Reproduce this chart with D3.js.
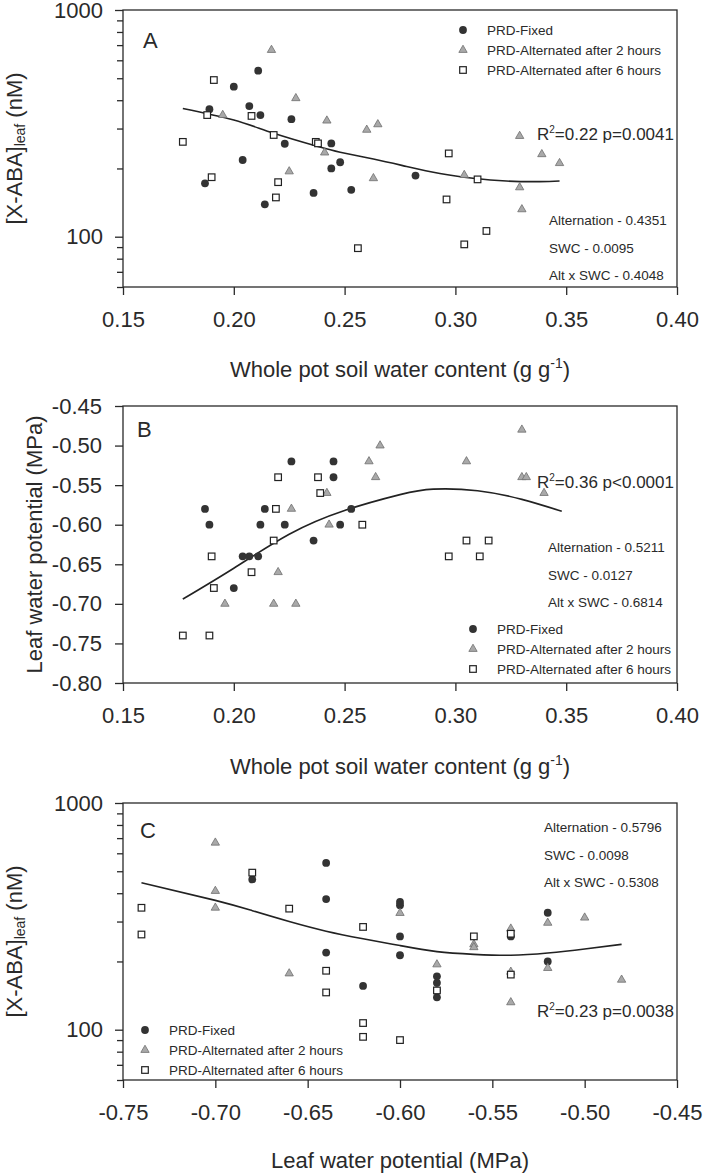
<!DOCTYPE html>
<html>
<head>
<meta charset="utf-8">
<script src="https://cdn.jsdelivr.net/npm/d3@7"></script>
<style>
  body { margin: 0; background: #fff; }
  svg { font-family: "Liberation Sans", Arial, sans-serif; }
</style>
</head>
<body>
<script>
const W = 704, H = 1176;
const left = 123, plotW = 554, plotH = 277;

// panel A : [X-ABA]leaf (nM) vs whole pot soil water content
const fixedA = [[0.187,172],[0.189,365],[0.200,459],[0.211,540],[0.207,377],[0.212,344],[0.226,330],[0.223,257],
  [0.204,218],[0.214,139],[0.236,156],[0.244,258],[0.244,200],[0.248,213],[0.253,161],[0.282,186]];
const alt2A = [[0.195,344],[0.217,666],[0.228,408],[0.242,325],[0.225,194],[0.241,235],[0.260,296],[0.265,313],
  [0.263,181],[0.304,187],[0.329,278],[0.339,231],[0.347,211],[0.329,165],[0.330,132]];
const alt6A = [[0.177,262],[0.191,491],[0.188,344],[0.190,183],[0.208,341],[0.218,281],[0.220,174],[0.219,149],
  [0.237,262],[0.238,258],[0.256,89],[0.297,233],[0.296,146],[0.310,179],[0.314,106],[0.304,92.5]];
const fitA = [[0.177,368],[0.200,327],[0.218,286],[0.238,250],[0.248,236],[0.263,220],[0.278,204],[0.293,190],
  [0.308,181],[0.323,176],[0.338,175],[0.347,176]];
const statsA = ["Alternation - 0.4351", "SWC - 0.0095", "Alt x SWC - 0.4048"];

// panel B : leaf water potential (MPa) vs whole pot soil water content
const fixedB = [[0.187,-0.58],[0.189,-0.60],[0.200,-0.68],[0.204,-0.64],[0.207,-0.64],[0.211,-0.64],[0.212,-0.60],
  [0.214,-0.58],[0.223,-0.60],[0.226,-0.52],[0.236,-0.62],[0.245,-0.52],[0.245,-0.54],[0.248,-0.60],[0.253,-0.58]];
const alt2B = [[0.196,-0.70],[0.218,-0.70],[0.228,-0.70],[0.220,-0.66],[0.226,-0.58],[0.242,-0.56],[0.243,-0.60],
  [0.261,-0.52],[0.266,-0.50],[0.264,-0.54],[0.305,-0.52],[0.330,-0.48],[0.330,-0.54],[0.332,-0.54],[0.340,-0.56]];
const alt6B = [[0.177,-0.74],[0.189,-0.74],[0.190,-0.64],[0.191,-0.68],[0.208,-0.66],[0.218,-0.62],[0.219,-0.58],
  [0.220,-0.54],[0.238,-0.54],[0.239,-0.56],[0.258,-0.60],[0.297,-0.64],[0.305,-0.62],[0.311,-0.64],[0.315,-0.62]];
const fitB = [[0.177,-0.694],[0.200,-0.655],[0.225,-0.612],[0.250,-0.582],[0.275,-0.562],[0.290,-0.555],
  [0.310,-0.557],[0.330,-0.568],[0.348,-0.583]];
const statsB = ["Alternation - 0.5211", "SWC - 0.0127", "Alt x SWC - 0.6814"];

// panel C : [X-ABA]leaf (nM) vs leaf water potential
const fixedC = [[-0.68,460],[-0.64,544],[-0.64,377],[-0.64,219],[-0.62,156],[-0.60,366],[-0.60,354],[-0.60,258],
  [-0.60,213],[-0.58,172],[-0.58,161],[-0.58,149],[-0.58,139],[-0.54,258],[-0.52,328],[-0.52,200]];
const alt2C = [[-0.70,668],[-0.70,409],[-0.70,345],[-0.66,177],[-0.60,327],[-0.58,194],[-0.56,238],[-0.56,231],
  [-0.54,279],[-0.54,180],[-0.54,132],[-0.52,296],[-0.52,187],[-0.50,312],[-0.48,166]];
const alt6C = [[-0.74,345],[-0.74,263],[-0.68,493],[-0.66,342],[-0.64,182],[-0.64,146],[-0.62,284],[-0.62,107],
  [-0.62,93],[-0.60,90],[-0.58,149],[-0.56,258],[-0.54,265],[-0.54,175]];
const fitC = [[-0.74,445],[-0.70,372],[-0.68,335],[-0.66,300],[-0.64,272],[-0.62,252],[-0.60,235],[-0.58,221],
  [-0.56,215],[-0.54,213],[-0.52,218],[-0.50,227],[-0.48,238]];
const statsC = ["Alternation - 0.5796", "SWC - 0.0098", "Alt x SWC - 0.5308"];

const legendLabels = ["PRD-Fixed", "PRD-Alternated after 2 hours", "PRD-Alternated after 6 hours"];
const swcTicks = [0.15, 0.20, 0.25, 0.30, 0.35, 0.40];
const psiTicks = [-0.80, -0.75, -0.70, -0.65, -0.60, -0.55, -0.50, -0.45];
const abaMajor = [100, 1000];
const abaMinor = [60, 70, 80, 90, 200, 300, 400, 500, 600, 700, 800, 900];

const ink = "#2a2a2a";

const svg = d3.select("body").append("svg")
  .attr("width", W)
  .attr("height", H);

function drawMarker(sel, kind) {
  if (kind == 0) {
    sel.append("circle").attr("r", 3.9).attr("fill", "#333");
  } else if (kind == 1) {
    sel.append("path")
      .attr("d", d3.symbol(d3.symbolTriangle, 30)())
      .attr("fill", "#a9a9a9").attr("stroke", "#6e6e6e").attr("stroke-width", 0.8);
  } else {
    sel.append("rect").attr("x", -3.3).attr("y", -3.3).attr("width", 6.6).attr("height", 6.6)
      .attr("fill", "#fff").attr("stroke", "#222").attr("stroke-width", 1.2);
  }
}

function panel(o) {
  const g = svg.append("g").attr("transform", "translate(" + left + "," + o.top + ")");

  const x = d3.scaleLinear().domain(o.xDomain).range([0, plotW]);
  const y = o.log
    ? d3.scaleLog().domain([60, 1000]).range([plotH, 0])
    : d3.scaleLinear().domain([-0.80, -0.45]).range([plotH, 0]);

  // axes
  const xa = g.append("g").attr("transform", "translate(0," + plotH + ")")
    .call(d3.axisBottom(x).tickValues(o.xTicks).tickSize(8).tickSizeOuter(0).tickPadding(16)
      .tickFormat(d => d.toFixed(2)));
  if (o.log) {
    g.append("g").call(d3.axisLeft(y).tickValues(abaMinor).tickSize(6).tickSizeOuter(0).tickFormat(""));
    g.append("g").call(d3.axisLeft(y).tickValues(abaMajor).tickSize(8).tickSizeOuter(0).tickPadding(12)
      .tickFormat(d => String(d)));
  } else {
    g.append("g").call(d3.axisLeft(y).tickValues(psiTicks).tickSize(8).tickSizeOuter(0).tickPadding(13)
      .tickFormat(d => d.toFixed(2)));
  }
  g.selectAll(".domain").remove();
  g.selectAll(".tick line").attr("stroke", ink).attr("stroke-width", 1.3);
  g.selectAll(".tick text").attr("fill", ink).style("font-size", "22px")
    .style("font-family", '"Liberation Sans", Arial, sans-serif');

  // frame
  g.append("rect").attr("width", plotW).attr("height", plotH)
    .attr("fill", "none").attr("stroke", ink).attr("stroke-width", 1.3);

  // fit line
  g.append("path")
    .datum(o.fit)
    .attr("d", d3.line().x(d => x(d[0])).y(d => y(d[1])).curve(d3.curveNatural))
    .attr("fill", "none").attr("stroke", "#222").attr("stroke-width", 1.6);

  // points
  o.series.forEach(function(s, k) {
    const pts = g.append("g").selectAll("g").data(s).enter().append("g")
      .attr("transform", d => "translate(" + x(d[0]) + "," + y(d[1]) + ")");
    drawMarker(pts, k);
  });

  // panel letter
  g.append("text").attr("x", o.letterX).attr("y", o.letterY)
    .attr("fill", ink).style("font-size", "22px").text(o.letter);

  // legend
  legendLabels.forEach(function(t, i) {
    const row = g.append("g").attr("transform", "translate(" + o.legX + "," + (o.legY + i * 20) + ")");
    drawMarker(row, i);
    row.append("text").attr("x", 24).attr("y", 4.6)
      .attr("fill", ink).style("font-size", "13.5px").text(t);
  });

  // stats
  o.stats.forEach(function(t, i) {
    g.append("text").attr("x", o.statX).attr("y", o.statY + i * 27.6)
      .attr("fill", ink).style("font-size", "13.5px").text(t);
  });

  // R2
  const r = g.append("text").attr("x", o.rX).attr("y", o.rY).attr("fill", ink).style("font-size", "17px");
  r.append("tspan").text("R");
  r.append("tspan").attr("dy", -7).style("font-size", "10px").text("2");
  r.append("tspan").attr("dy", 7).text(o.rText);

  // x title
  const xt = g.append("text").attr("x", plotW / 2).attr("y", o.xTitleY)
    .attr("text-anchor", "middle").attr("fill", ink).style("font-size", "22px");
  if (o.xTitle == "swc") {
    xt.append("tspan").text("Whole pot soil water content (g g");
    xt.append("tspan").attr("dy", -9).style("font-size", "14px").text("-1");
    xt.append("tspan").attr("dy", 9).text(")");
  } else {
    xt.text("Leaf water potential (MPa)");
  }

  // y title
  const yt = g.append("text")
    .attr("transform", "translate(" + (o.yTitleX - left) + "," + plotH / 2 + ") rotate(-90)")
    .attr("text-anchor", "middle").attr("fill", ink).style("font-size", "22px");
  if (o.log) {
    yt.append("tspan").text("[X-ABA]");
    yt.append("tspan").attr("dy", 3).style("font-size", "14px").text("leaf");
    yt.append("tspan").attr("dy", -3).text(" (nM)");
  } else {
    yt.text("Leaf water potential (MPa)");
  }
}

panel({
  top: 10, xDomain: [0.15, 0.40], xTicks: swcTicks, log: true,
  series: [fixedA, alt2A, alt6A], fit: fitA, stats: statsA,
  letter: "A", letterX: 20, letterY: 38,
  legX: 340, legY: 20,
  statX: 426, statY: 215,
  rX: 414, rY: 130, rText: "=0.22 p=0.0041",
  xTitle: "swc", xTitleY: 367, yTitleX: 22
});

panel({
  top: 406, xDomain: [0.15, 0.40], xTicks: swcTicks, log: false,
  series: [fixedB, alt2B, alt6B], fit: fitB, stats: statsB,
  letter: "B", letterX: 14, letterY: 31,
  legX: 350, legY: 223,
  statX: 425, statY: 146,
  rX: 414, rY: 82, rText: "=0.36 p<0.0001",
  xTitle: "swc", xTitleY: 368, yTitleX: 42
});

panel({
  top: 803, xDomain: [-0.75, -0.45], xTicks: psiTicks.slice(1), log: true,
  series: [fixedC, alt2C, alt6C], fit: fitC, stats: statsC,
  letter: "C", letterX: 17, letterY: 35,
  legX: 22, legY: 227,
  statX: 421, statY: 29,
  rX: 414, rY: 214, rText: "=0.23 p=0.0038",
  xTitle: "psi", xTitleY: 365, yTitleX: 22
});
</script>
</body>
</html>
